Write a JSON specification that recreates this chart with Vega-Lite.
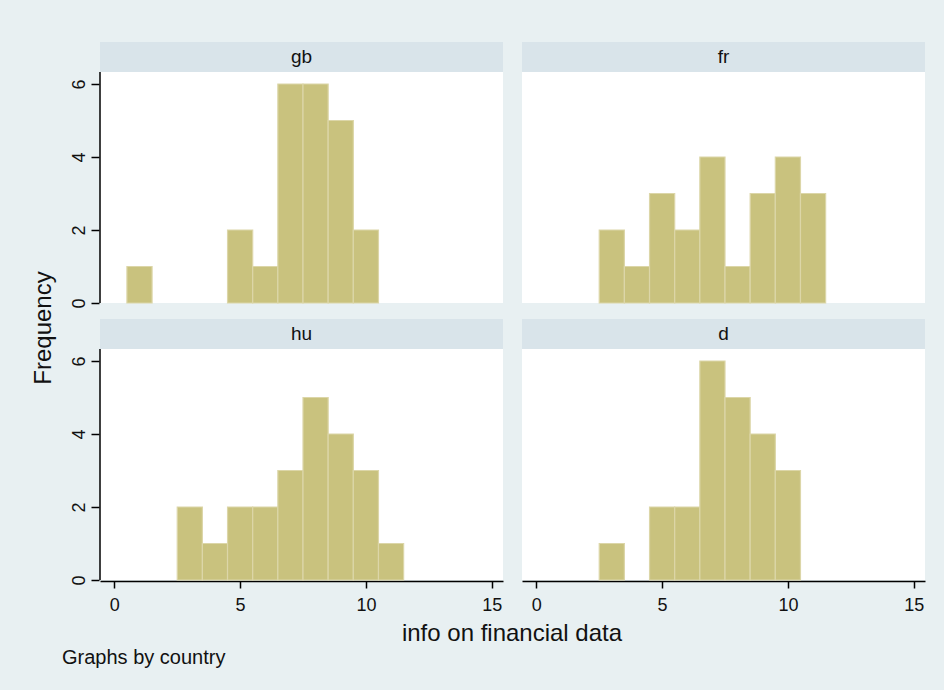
{
  "$schema": "https://vega.github.io/schema/vega-lite/v6.json",
  "background": "#e8f0f2",
  "padding": {"left": 32, "top": 42, "right": 24, "bottom": 26},
  "title": {"text": "Graphs by country", "orient": "bottom", "anchor": "start", "fontSize": 20, "offset": 2, "dx": 30},
  "vconcat": [
    {
      "title": {"text": "Frequency", "orient": "left", "anchor": "middle", "fontSize": 24, "offset": 14, "dx": 16},
      "data": {
        "values": [
          {"country": "gb", "lo": 0.5, "hi": 1.5, "freq": 1},
          {"country": "gb", "lo": 4.5, "hi": 5.5, "freq": 2},
          {"country": "gb", "lo": 5.5, "hi": 6.5, "freq": 1},
          {"country": "gb", "lo": 6.5, "hi": 7.5, "freq": 6},
          {"country": "gb", "lo": 7.5, "hi": 8.5, "freq": 6},
          {"country": "gb", "lo": 8.5, "hi": 9.5, "freq": 5},
          {"country": "gb", "lo": 9.5, "hi": 10.5, "freq": 2},
          {"country": "fr", "lo": 2.5, "hi": 3.5, "freq": 2},
          {"country": "fr", "lo": 3.5, "hi": 4.5, "freq": 1},
          {"country": "fr", "lo": 4.5, "hi": 5.5, "freq": 3},
          {"country": "fr", "lo": 5.5, "hi": 6.5, "freq": 2},
          {"country": "fr", "lo": 6.5, "hi": 7.5, "freq": 4},
          {"country": "fr", "lo": 7.5, "hi": 8.5, "freq": 1},
          {"country": "fr", "lo": 8.5, "hi": 9.5, "freq": 3},
          {"country": "fr", "lo": 9.5, "hi": 10.5, "freq": 4},
          {"country": "fr", "lo": 10.5, "hi": 11.5, "freq": 3},
          {"country": "hu", "lo": 2.5, "hi": 3.5, "freq": 2},
          {"country": "hu", "lo": 3.5, "hi": 4.5, "freq": 1},
          {"country": "hu", "lo": 4.5, "hi": 5.5, "freq": 2},
          {"country": "hu", "lo": 5.5, "hi": 6.5, "freq": 2},
          {"country": "hu", "lo": 6.5, "hi": 7.5, "freq": 3},
          {"country": "hu", "lo": 7.5, "hi": 8.5, "freq": 5},
          {"country": "hu", "lo": 8.5, "hi": 9.5, "freq": 4},
          {"country": "hu", "lo": 9.5, "hi": 10.5, "freq": 3},
          {"country": "hu", "lo": 10.5, "hi": 11.5, "freq": 1},
          {"country": "d", "lo": 2.5, "hi": 3.5, "freq": 1},
          {"country": "d", "lo": 4.5, "hi": 5.5, "freq": 2},
          {"country": "d", "lo": 5.5, "hi": 6.5, "freq": 2},
          {"country": "d", "lo": 6.5, "hi": 7.5, "freq": 6},
          {"country": "d", "lo": 7.5, "hi": 8.5, "freq": 5},
          {"country": "d", "lo": 8.5, "hi": 9.5, "freq": 4},
          {"country": "d", "lo": 9.5, "hi": 10.5, "freq": 3}
        ]
      },
      "facet": {
        "field": "country",
        "type": "nominal",
        "sort": ["gb", "fr", "hu", "d"],
        "header": {
          "labels": false,
          "labelExpr": "''",
          "labelFontSize": 0,
          "labelPadding": 0,
          "title": "info on financial data",
          "titleOrient": "bottom",
          "titleFontSize": 24,
          "titleFontWeight": "normal",
          "titleFont": "Liberation Sans",
          "titleColor": "#111",
          "titlePadding": 8
        }
      },
      "columns": 2,
      "spacing": {"row": 15, "column": 19},
      "spec": {
        "width": 403,
        "height": 261,
        "layer": [
          {
            "transform": [{"aggregate": [{"op": "count", "as": "n"}], "groupby": ["country"]}],
            "mark": {"type": "rect", "color": "#d9e4ea"},
            "encoding": {
              "x": {"datum": -0.57, "type": "quantitative", "scale": {"domain": [-0.57, 15.45], "nice": false, "zero": false}},
              "x2": {"datum": 15.45},
              "y": {"datum": 6.33, "type": "quantitative", "scale": {"domain": [0, 7.15], "nice": false}},
              "y2": {"datum": 7.15}
            }
          },
          {
            "mark": {"type": "bar", "color": "#c9c27e", "stroke": "#dcd6a8", "strokeWidth": 1.2},
            "encoding": {
              "x": {
                "field": "lo",
                "type": "quantitative",
                "scale": {"domain": [-0.57, 15.45], "nice": false, "zero": false},
                "axis": {"values": [0, 5, 10, 15], "title": null, "grid": false, "labelFlush": false, "tickSize": 7, "labelPadding": 8}
              },
              "x2": {"field": "hi"},
              "y": {
                "field": "freq",
                "type": "quantitative",
                "scale": {"domain": [0, 7.15], "nice": false},
                "axis": {"values": [0, 2, 4, 6], "title": null, "domain": false, "labelAngle": 270, "labelAlign": "center", "labelBaseline": "bottom", "tickSize": 8, "labelPadding": 3}
              },
              "y2": {"datum": 0}
            }
          },
          {
            "transform": [
              {"filter": {"field": "country", "oneOf": ["gb", "hu"]}},
              {"aggregate": [{"op": "count", "as": "n"}], "groupby": ["country"]}
            ],
            "mark": {"type": "rule", "color": "#000", "strokeWidth": 1.5},
            "encoding": {
              "x": {"datum": -0.57, "type": "quantitative"},
              "y": {"datum": 0, "type": "quantitative"},
              "y2": {"datum": 6.33}
            }
          },
          {
            "transform": [{"aggregate": [{"op": "count", "as": "n"}], "groupby": ["country"]}],
            "mark": {"type": "text", "fontSize": 19, "font": "Liberation Sans", "color": "#111", "baseline": "middle", "align": "center"},
            "encoding": {
              "x": {"datum": 7.44, "type": "quantitative"},
              "y": {"datum": 6.74, "type": "quantitative"},
              "text": {"field": "country"}
            }
          }
        ]
      }
    }
  ],
  "config": {
    "font": "Liberation Sans",
    "view": {"fill": "white", "stroke": null},
    "header": {"labels": false},
    "title": {"font": "Liberation Sans", "fontWeight": "normal", "color": "#111"},
    "axis": {
      "labelFont": "Liberation Sans",
      "labelFontSize": 18,
      "labelColor": "#111",
      "tickColor": "#000",
      "tickWidth": 1.5,
      "domainColor": "#000",
      "domainWidth": 1.5,
      "gridColor": "#e6eef2",
      "gridWidth": 1.5
    }
  }
}
